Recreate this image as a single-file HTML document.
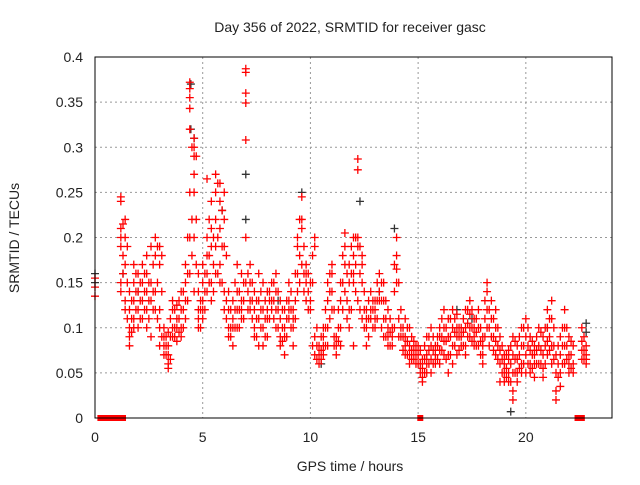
<!DOCTYPE html>
<html><head><meta charset="utf-8"><style>
body{margin:0;background:#fff}
svg text{font-family:"Liberation Sans",sans-serif;fill:#222}
</style></head><body>
<svg id="c" width="640" height="480"></svg>
<script>
const xTicks=[0,5,10,15,20];
const yTicks=[0,0.05,0.1,0.15,0.2,0.25,0.3,0.35,0.4];
const yTickLabels=["0","0.05","0.1","0.15","0.2","0.25","0.3","0.35","0.4"];
const redTimes=[0.0,1.2,1.4,1.6,1.8,2.0,2.2,2.4,2.6,2.8,3.0,3.2,3.4,3.6,3.8,4.0,4.2,4.4,4.6,4.8,5.0,5.2,5.4,5.6,5.8,6.0,6.2,6.4,6.6,6.8,7.0,7.2,7.4,7.6,7.8,8.0,8.2,8.4,8.6,8.8,9.0,9.2,9.4,9.6,9.8,10.0,10.2,10.4,10.6,10.8,11.0,11.2,11.4,11.6,11.8,12.0,12.2,12.4,12.6,12.8,13.0,13.2,13.4,13.6,13.8,14.0,14.2,14.4,14.6,14.8,15.0,15.2,15.4,15.6,15.8,16.0,16.2,16.4,16.6,16.8,17.0,17.2,17.4,17.6,17.8,18.0,18.2,18.4,18.6,18.8,19.0,19.2,19.4,19.6,19.8,20.0,20.2,20.4,20.6,20.8,21.0,21.2,21.4,21.6,21.8,22.0,22.2,22.6,22.8];
const redValues=[[0.135,0.145,0.155],[0.245,0.24,0.21,0.2,0.19,0.15,0.14],[0.22,0.2,0.17,0.13,0.12],[0.1,0.09,0.08,0.12,0.14],[0.17,0.15,0.13,0.11,0.1],[0.16,0.14,0.12,0.1],[0.15,0.13,0.11,0.17],[0.16,0.14,0.12,0.18,0.1],[0.19,0.15,0.13,0.09],[0.2,0.18,0.14,0.12],[0.19,0.17,0.12,0.1,0.08],[0.1,0.09,0.08,0.07],[0.095,0.08,0.07,0.06,0.055],[0.13,0.12,0.1,0.09],[0.125,0.11,0.1,0.085],[0.14,0.12,0.1,0.09],[0.13,0.11,0.15,0.17],[0.372,0.365,0.355,0.343,0.32,0.25,0.2,0.16],[0.31,0.3,0.29,0.27,0.25,0.2,0.14],[0.14,0.12,0.11,0.16,0.1],[0.15,0.13,0.12,0.11,0.17],[0.265,0.2,0.18,0.16,0.14],[0.24,0.21,0.19,0.15,0.13],[0.27,0.25,0.22,0.19,0.16],[0.26,0.24,0.21,0.17,0.15],[0.25,0.22,0.19,0.14,0.12],[0.14,0.12,0.1,0.09],[0.13,0.11,0.1,0.08],[0.17,0.14,0.12,0.1],[0.16,0.13,0.12,0.11],[0.387,0.383,0.36,0.349,0.308,0.2,0.15],[0.17,0.15,0.13,0.12],[0.14,0.12,0.1,0.09],[0.16,0.13,0.11,0.08],[0.15,0.12,0.1,0.08],[0.14,0.12,0.11,0.09],[0.15,0.13,0.12],[0.16,0.14,0.12,0.1],[0.13,0.11,0.09,0.08],[0.12,0.1,0.09,0.07],[0.15,0.13,0.12,0.11],[0.12,0.11,0.1,0.08],[0.2,0.19,0.16,0.14],[0.245,0.22,0.21,0.17],[0.17,0.16,0.15,0.13],[0.15,0.13,0.12],[0.2,0.19,0.09,0.07],[0.08,0.07,0.06],[0.1,0.09,0.08,0.07],[0.15,0.13,0.1,0.08],[0.17,0.16,0.14,0.12],[0.09,0.08,0.07],[0.15,0.13,0.1,0.08],[0.205,0.19,0.17,0.14],[0.17,0.15,0.12,0.1],[0.2,0.18,0.16,0.15,0.08],[0.287,0.275,0.2,0.19,0.13],[0.18,0.17,0.15,0.11],[0.12,0.11,0.1,0.08],[0.14,0.12,0.11],[0.13,0.12,0.11,0.1],[0.16,0.14,0.13],[0.15,0.13,0.11,0.09],[0.12,0.1,0.09,0.08],[0.1,0.09,0.08],[0.2,0.18,0.165,0.15],[0.12,0.1,0.09],[0.11,0.09,0.08,0.07],[0.1,0.08,0.07,0.06],[0.085,0.075,0.065],[0.08,0.07,0.06],[0.065,0.055,0.045,0.04],[0.09,0.07,0.06,0.05],[0.1,0.08,0.065,0.05],[0.08,0.07,0.06],[0.1,0.09,0.075,0.06],[0.12,0.1,0.085,0.07],[0.11,0.09,0.07,0.05],[0.12,0.1,0.08,0.06],[0.115,0.1,0.09,0.07],[0.1,0.09,0.08],[0.12,0.1,0.08,0.07],[0.13,0.115,0.1,0.09],[0.11,0.1,0.09,0.08],[0.12,0.1,0.08],[0.09,0.08,0.07,0.06],[0.15,0.14,0.12,0.1],[0.13,0.11,0.09],[0.12,0.1,0.085,0.07],[0.09,0.075,0.06,0.04],[0.07,0.06,0.05,0.04],[0.075,0.065,0.05,0.04],[0.09,0.07,0.05,0.03,0.02],[0.08,0.065,0.05,0.04],[0.1,0.08,0.06,0.05],[0.11,0.09,0.07,0.05],[0.09,0.075,0.06,0.05],[0.08,0.07,0.06,0.045],[0.1,0.08,0.06],[0.09,0.07,0.055,0.045],[0.12,0.1,0.085,0.07],[0.13,0.11,0.08,0.06],[0.07,0.05,0.03,0.02],[0.09,0.07,0.05,0.035],[0.12,0.1,0.08,0.06],[0.09,0.07,0.06,0.05],[0.08,0.06,0.05],[0.1,0.085,0.075,0.065],[0.08,0.07,0.065,0.06]];
const midTimes=[1.3,1.5,1.7,1.9,2.1,2.3,2.5,2.7,2.9,3.1,3.3,3.5,3.7,3.9,4.1,4.3,4.5,4.7,4.9,5.1,5.3,5.5,5.7,5.9,6.1,6.3,6.5,6.7,6.9,7.1,7.3,7.5,7.7,7.9,8.1,8.3,8.5,8.7,8.9,9.1,9.3,9.5,9.7,9.9,10.1,10.3,10.5,10.7,10.9,11.1,11.3,11.5,11.7,11.9,12.1,12.3,12.5,12.7,12.9,13.1,13.3,13.5,13.7,13.9,14.1,14.3,14.5,14.7,14.9,15.1,15.3,15.5,15.7,15.9,16.1,16.3,16.5,16.7,16.9,17.1,17.3,17.5,17.7,17.9,18.1,18.3,18.5,18.7,18.9,19.1,19.3,19.5,19.7,19.9,20.1,20.3,20.5,20.7,20.9,21.1,21.3,21.5,21.7,21.9,22.1,22.7];
const midValues=[[0.215,0.18,0.16],[0.19,0.15,0.11],[0.11,0.095,0.13],[0.16,0.14,0.12],[0.15,0.13,0.11],[0.14,0.12,0.16],[0.15,0.13,0.11],[0.17,0.14,0.12],[0.19,0.15,0.11],[0.18,0.14,0.09],[0.09,0.08,0.07],[0.11,0.09,0.065],[0.12,0.1,0.09],[0.13,0.11,0.095],[0.12,0.1,0.14],[0.2,0.16,0.13],[0.3,0.22,0.18],[0.29,0.22,0.17],[0.13,0.12,0.1],[0.16,0.14,0.12],[0.22,0.18,0.15],[0.2,0.17,0.14],[0.26,0.2,0.16],[0.23,0.19,0.15],[0.18,0.13,0.11],[0.12,0.1,0.09],[0.15,0.12,0.1],[0.14,0.12,0.1],[0.15,0.13,0.11],[0.16,0.14,0.12],[0.15,0.13,0.11],[0.13,0.11,0.09],[0.14,0.12,0.1],[0.13,0.11,0.09],[0.14,0.13,0.11],[0.15,0.13,0.11],[0.14,0.12,0.1],[0.12,0.1,0.085],[0.13,0.11,0.09],[0.14,0.12,0.1],[0.16,0.13,0.11],[0.22,0.18,0.15],[0.19,0.16,0.14],[0.16,0.14,0.12],[0.18,0.15,0.08],[0.1,0.08,0.065],[0.09,0.075,0.065],[0.12,0.1,0.08],[0.16,0.14,0.11],[0.12,0.09,0.08],[0.12,0.1,0.085],[0.18,0.15,0.12],[0.16,0.13,0.11],[0.19,0.16,0.12],[0.2,0.17,0.14],[0.19,0.16,0.12],[0.14,0.12,0.1],[0.13,0.11,0.09],[0.13,0.12,0.1],[0.15,0.13,0.11],[0.15,0.13,0.1],[0.13,0.11,0.09],[0.11,0.095,0.08],[0.17,0.14,0.1],[0.15,0.11,0.09],[0.1,0.09,0.075],[0.1,0.085,0.07],[0.09,0.075,0.065],[0.08,0.07,0.06],[0.075,0.06,0.05],[0.08,0.065,0.05],[0.09,0.075,0.06],[0.09,0.075,0.06],[0.09,0.08,0.065],[0.11,0.09,0.075],[0.1,0.085,0.065],[0.11,0.09,0.07],[0.11,0.095,0.08],[0.1,0.09,0.075],[0.11,0.095,0.08],[0.12,0.105,0.09],[0.12,0.1,0.085],[0.11,0.095,0.08],[0.1,0.085,0.07],[0.13,0.11,0.09],[0.12,0.1,0.08],[0.11,0.09,0.075],[0.1,0.08,0.065],[0.08,0.065,0.05],[0.07,0.055,0.045],[0.08,0.06,0.04],[0.085,0.065,0.05],[0.09,0.07,0.055],[0.1,0.08,0.06],[0.1,0.08,0.06],[0.085,0.07,0.055],[0.09,0.075,0.06],[0.095,0.075,0.06],[0.1,0.08,0.06],[0.11,0.09,0.075],[0.1,0.08,0.065],[0.08,0.06,0.045],[0.1,0.08,0.06],[0.1,0.08,0.065],[0.085,0.07,0.055],[0.09,0.075,0.065]];
const zeroTimes=[0.25,0.5,0.6,0.7,0.8,0.9,1.0,1.1,1.2,1.3,15.1,22.4,22.5,22.6];
const blackTimes=[0.0,0.0,1.3,2.0,4.45,4.45,4.6,5.9,7.0,7.0,8.5,9.6,10.5,12.3,13.2,13.9,16.8,17.5,19.3,21.0,22.8,22.8];
const blackValues=[0.16,0.15,0.16,0.14,0.37,0.32,0.31,0.23,0.27,0.22,0.13,0.25,0.06,0.24,0.14,0.21,0.12,0.11,0.007,0.1,0.105,0.095];

const L=95,R=612,T=57,B=418,XMAX=24,YMAX=0.4;
const sx=v=>L+v/XMAX*(R-L), sy=v=>B-v/YMAX*(B-T);
const svg=document.getElementById('c'),NS='http://www.w3.org/2000/svg';
function mk(t,a,p){const e=document.createElementNS(NS,t);for(const k in a)e.setAttribute(k,a[k]);(p||svg).appendChild(e);return e;}
xTicks.forEach((v,i)=>{
 if(v>0){const g=mk('line',{x1:sx(v),x2:sx(v),y1:T,y2:B,stroke:'#999','stroke-dasharray':'2,3'});
 
 }
 const t=mk('text',{x:sx(v),y:B+24,'text-anchor':'middle','font-size':14});t.textContent=v;
 
 
});
yTicks.forEach((v,i)=>{
 if(v>0&&v<YMAX){const g=mk('line',{x1:L,x2:R,y1:sy(v),y2:sy(v),stroke:'#999','stroke-dasharray':'2,3'});
 
 }
 const t=mk('text',{x:L-12,y:sy(v)+5,'text-anchor':'end','font-size':14});t.textContent=yTickLabels[i];
 
 
});
function plus(x,y,c,name){const p=mk('path',{d:`M${x-4},${y}h8M${x},${y-4}v8`,stroke:c,'stroke-width':1.3,fill:'none'});
 
 }
blackTimes.forEach((t,i)=>plus(sx(t),sy(blackValues[i]),'#333','black-point'));
redTimes.forEach((t,i)=>redValues[i].forEach(v=>plus(sx(t),sy(v),'#f00','red-point')));
midTimes.forEach((t,i)=>midValues[i].forEach(v=>plus(sx(t),sy(v),'#f00','red-point')));
zeroTimes.forEach(t=>{const r=mk('rect',{x:sx(t)-3,y:B-3,width:6,height:6,fill:'#f00'});
 
 });
const f=mk('rect',{x:L,y:T,width:R-L,height:B-T,fill:'none',stroke:'#000','stroke-width':1});


const ti=mk('text',{x:350,y:32,'text-anchor':'middle','font-size':14});ti.textContent='Day 356 of 2022, SRMTID for receiver gasc';


const xl=mk('text',{x:350,y:471,'text-anchor':'middle','font-size':14});xl.textContent='GPS time / hours';


const yl=mk('text',{x:0,y:0,'text-anchor':'middle','font-size':14,transform:'translate(19,238) rotate(-90)'});yl.textContent='SRMTID / TECUs';


</script>
</body></html>
